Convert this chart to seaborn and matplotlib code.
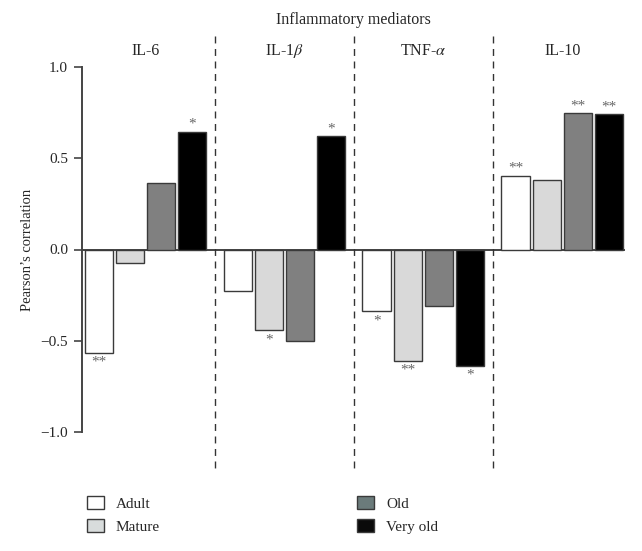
import matplotlib
matplotlib.use("Agg")
import matplotlib.pyplot as plt
import matplotlib.transforms as mtransforms
from matplotlib.patches import Patch
import seaborn as sns
import pandas as pd

mediators = ["IL-6", "IL-1$\\beta$", "TNF-$\\alpha$", "IL-10"]
groups = ["Adult", "Mature", "Old", "Very old"]
adult = [-0.567, -0.228, -0.339, 0.404]
mature = [-0.073, -0.443, -0.610, 0.379]
old = [0.366, -0.500, -0.308, 0.747]
very_old = [0.645, 0.620, -0.636, 0.742]
stars_adult = ["**", "", "*", "**"]
stars_mature = ["", "*", "**", ""]
stars_old = ["", "", "", "**"]
stars_very_old = ["*", "*", "*", "**"]
yticks = [-1.0, -0.5, 0.0, 0.5, 1.0]

bar_colors = ["#ffffff", "#d9d9d9", "#808080", "#000000"]
legend_colors = ["#ffffff", "#d8dcdc", "#6b7b7b", "#0a0a0a"]

sns.set_style("white")
plt.rcParams["font.family"] = ["Liberation Serif", "DejaVu Serif"]
plt.rcParams["mathtext.fontset"] = "stix"
plt.rcParams["axes.unicode_minus"] = True

values = [adult, mature, old, very_old]
stars = [stars_adult, stars_mature, stars_old, stars_very_old]
rows = []
for g, vals in zip(groups, values):
    for m, v in zip(mediators, vals):
        rows.append({"mediator": m, "group": g, "value": v})
df = pd.DataFrame(rows)

fig = plt.figure(figsize=(6.42, 5.51), dpi=100)
ax = fig.add_axes([82 / 642, 1 - 432 / 551, (625 - 82) / 642, (432 - 67) / 551])

sns.barplot(data=df, x="mediator", y="value", hue="group", order=mediators,
            hue_order=groups, palette=bar_colors, width=0.9, gap=0.1,
            edgecolor="#3a3a3a", linewidth=1.0, legend=False, ax=ax)

ax.set_ylim(-1, 1)
ax.set_xlim(-0.457, 3.45)
ax.axhline(0, color="#222222", lw=1.2, zorder=0)
ax.set_yticks(yticks)
ax.set_yticklabels([f"{t:.1f}".replace("-", "\u2212") for t in yticks], fontsize=11)
ax.tick_params(axis="y", direction="out", length=6, width=1.2, color="#444444", left=True, pad=4)
ax.set_xticks([])
ax.set_xlabel("")
ax.set_ylabel("Pearson\u2019s correlation", fontsize=10.5, labelpad=5)
for s in ["top", "right", "bottom"]:
    ax.spines[s].set_visible(False)
ax.spines["left"].set_color("#444444")
ax.spines["left"].set_linewidth(1.4)

# significance stars
for cont, st in zip(ax.containers, stars):
    for bar, s in zip(cont, st):
        if not s:
            continue
        xc = bar.get_x() + bar.get_width() / 2
        h = bar.get_height()
        y0 = bar.get_y()
        top = max(y0, y0 + h)
        bot = min(y0, y0 + h)
        if top > 0.0001:
            ax.text(xc, top + 0.005, s, ha="center", va="bottom", fontsize=11, color="#666666")
        else:
            ax.text(xc, bot - 0.015, s, ha="center", va="top", fontsize=11, color="#666666")

# dashed separators extending beyond axes
trans = mtransforms.blended_transform_factory(ax.transData, ax.transAxes)
for xs in [0.5, 1.5, 2.5]:
    ax.plot([xs, xs], [1.085, -0.10], transform=trans, ls=(0, (5, 4)), color="#333333",
            lw=1.0, clip_on=False)

# group labels and header
for i, m in enumerate(mediators):
    ax.text(i, 1.044, m, transform=trans, ha="center", va="center", fontsize=11.5)
ax.text(0.5, 1.13, "Inflammatory mediators", transform=ax.transAxes, ha="center",
        va="center", fontsize=11.5)

handles = [Patch(facecolor=c, edgecolor="#3a3a3a", lw=1.0) for c in legend_colors]
fig.legend(handles, groups, loc="upper left", bbox_to_anchor=(87 / 642, 1 - 496 / 551),
           ncol=2, frameon=False, fontsize=11, handlelength=1.1, handleheight=0.95,
           handletextpad=0.8, columnspacing=12.9, labelspacing=0.55, borderpad=0,
           borderaxespad=0)

fig.savefig("out.png", dpi=100)
